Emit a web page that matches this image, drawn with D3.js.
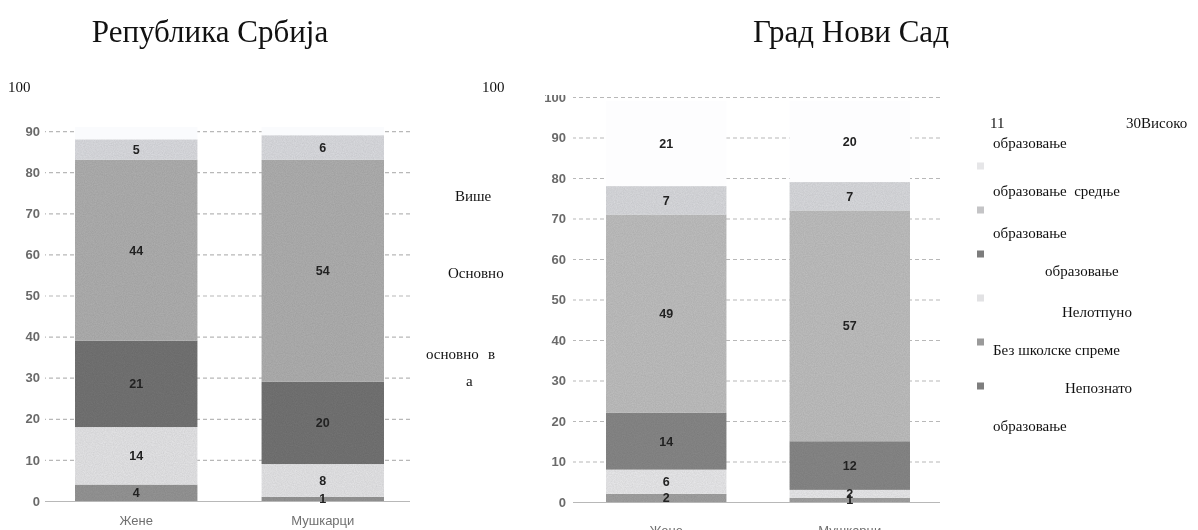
<!DOCTYPE html>
<html>
<head>
<meta charset="utf-8">
<script src="https://cdn.jsdelivr.net/npm/d3@7"></script>
<style>
  body { margin: 0; background: #fff; }
  svg { display: block; }
  .ocr { font-family: "Liberation Serif", "Times New Roman", serif; fill: #111; }
</style>
</head>
<body>
<svg id="chart" width="1198" height="530"></svg>
<script>
// categories and series (stack order, bottom to top)
var categories = ["Жене", "Мушкарци"];
var seriesKeys = ["bez", "nepotpuno", "osnovno", "srednje", "vise", "visoko"];

// Република Србија (%)
var srbBez       = [4, 1];
var srbNepotpuno = [14, 8];
var srbOsnovno   = [21, 20];
var srbSrednje   = [44, 54];
var srbVise      = [5, 6];
var srbVisoko    = [11, 11];

// Град Нови Сад (%)
var nsBez       = [2, 1];
var nsNepotpuno = [6, 2];
var nsOsnovno   = [14, 12];
var nsSrednje   = [49, 57];
var nsVise      = [7, 7];
var nsVisoko    = [21, 20];

var srbTicks = [0, 10, 20, 30, 40, 50, 60, 70, 80, 90];
var nsTicks  = [0, 10, 20, 30, 40, 50, 60, 70, 80, 90, 100];

// legend (text layer of the scan)
var legendKeys = ["vise", "srednje", "osnovno", "nepotpuno", "bez", "nepoznato"];

var svg = d3.select("#chart");
var defs = svg.append("defs");

// scanned paper grain
var grain = defs.append("filter").attr("id", "grain")
  .attr("x", 0).attr("y", 0).attr("width", 1).attr("height", 1);
grain.append("feTurbulence").attr("type", "fractalNoise")
  .attr("baseFrequency", 0.9).attr("numOctaves", 2).attr("seed", 3).attr("result", "n");
grain.append("feColorMatrix").attr("in", "n").attr("type", "matrix")
  .attr("values", "0 0 0 0 0  0 0 0 0 0  0 0 0 0 0  0 0 0 0.22 0").attr("result", "na");
grain.append("feComposite").attr("in", "na").attr("in2", "SourceGraphic")
  .attr("operator", "in").attr("result", "nc");
var merge = grain.append("feMerge");
merge.append("feMergeNode").attr("in", "SourceGraphic");
merge.append("feMergeNode").attr("in", "nc");

var soft = defs.append("filter").attr("id", "soft");
soft.append("feGaussianBlur").attr("stdDeviation", 0.55);

function rows(bez, nep, osn, sre, vis, vso) {
  return categories.map(function(c, i) {
    return { cat: c, bez: bez[i], nepotpuno: nep[i], osnovno: osn[i],
             srednje: sre[i], vise: vis[i], visoko: vso[i] };
  });
}

function drawChart(opt) {
  var g = svg.append("g");
  var clipId = "clip" + opt.id;
  defs.append("clipPath").attr("id", clipId)
    .append("rect").attr("x", 0).attr("y", opt.clipTop)
    .attr("width", 1198).attr("height", 530 - opt.clipTop);
  g.attr("clip-path", "url(#" + clipId + ")");
  var inner = g.append("g").attr("filter", "url(#soft)");

  var y = d3.scaleLinear().domain([0, 100]).range([opt.y0, opt.y100]);
  var x = d3.scaleBand().domain(categories)
    .range([opt.barLeft, opt.barRight]).paddingInner(opt.padInner).paddingOuter(0);

  // dashed grid
  var grid = inner.append("g")
    .attr("transform", "translate(" + opt.gridRight + ",0)")
    .call(d3.axisLeft(y).tickValues(opt.ticks).tickSize(opt.gridRight - opt.gridLeft).tickFormat(""));
  grid.select(".domain").remove();
  grid.selectAll("line")
    .attr("stroke", "#b8b8b8").attr("stroke-width", 1.2)
    .attr("stroke-dasharray", function(d) { return d === 0 ? null : "4,3"; });

  // tick labels
  var lab = inner.append("g")
    .attr("transform", "translate(" + opt.labelX + ",0)")
    .call(d3.axisLeft(y).tickValues(opt.ticks).tickSize(0).tickPadding(0));
  lab.select(".domain").remove();
  lab.selectAll("text")
    .attr("font-family", "Liberation Sans, Arial, sans-serif")
    .attr("font-size", 13).attr("font-weight", "bold").attr("fill", "#6a6a6a");

  // stacked bars
  var stacked = d3.stack().keys(seriesKeys)(opt.data);
  var layers = inner.append("g")
    .selectAll("g").data(stacked).join("g")
    .attr("fill", function(d) { return opt.colors[d.key]; })
    .attr("filter", function(d) { return d.key === "visoko" ? null : "url(#grain)"; });
  layers.selectAll("rect").data(function(d) { return d; }).join("rect")
    .attr("x", function(d) { return x(d.data.cat); })
    .attr("width", x.bandwidth())
    .attr("y", function(d) { return y(d[1]); })
    .attr("height", function(d) { return y(d[0]) - y(d[1]); });

  // value labels
  stacked.forEach(function(layer) {
    inner.append("g").selectAll("text").data(layer).join("text")
      .attr("x", function(d) { return x(d.data.cat) + x.bandwidth() / 2; })
      .attr("y", function(d) { return y((d[0] + d[1]) / 2); })
      .attr("dy", "0.36em")
      .attr("text-anchor", "middle")
      .attr("font-family", "Liberation Sans, Arial, sans-serif")
      .attr("font-size", 12.5).attr("font-weight", "bold").attr("fill", "#222")
      .text(function(d) { return d[1] - d[0]; });
  });

  // category labels
  inner.append("g").selectAll("text").data(categories).join("text")
    .attr("x", function(d) { return x(d) + x.bandwidth() / 2; })
    .attr("y", opt.catY)
    .attr("text-anchor", "middle")
    .attr("font-family", "Liberation Sans, Arial, sans-serif")
    .attr("font-size", 13).attr("fill", "#707070")
    .text(function(d) { return d; });
}

drawChart({
  id: "srb",
  data: rows(srbBez, srbNepotpuno, srbOsnovno, srbSrednje, srbVise, srbVisoko),
  ticks: srbTicks,
  y0: 501, y100: 90, clipTop: 127,
  barLeft: 75, barRight: 384, padInner: 0.344,
  gridLeft: 45, gridRight: 410, labelX: 40, catY: 525,
  colors: { bez: "#969696", nepotpuno: "#e6e6e8", osnovno: "#747474",
            srednje: "#b0b0b0", vise: "#dcdde1", visoko: "#fafbfd" }
});

drawChart({
  id: "ns",
  data: rows(nsBez, nsNepotpuno, nsOsnovno, nsSrednje, nsVise, nsVisoko),
  ticks: nsTicks,
  y0: 502, y100: 97, clipTop: 95,
  barLeft: 606, barRight: 910, padInner: 0.344,
  gridLeft: 573, gridRight: 940, labelX: 566, catY: 535,
  colors: { bez: "#a2a2a2", nepotpuno: "#eaeaec", osnovno: "#888888",
            srednje: "#c0c0c0", vise: "#dadbdf", visoko: "#fdfdfe" }
});

// legend markers
var legendColors = { vise: "#e6e6e8", srednje: "#c4c4c6", osnovno: "#7c7c7c",
                     nepotpuno: "#e2e2e4", bez: "#9a9a9a", nepoznato: "#7e7e7e" };
var legendY = d3.scalePoint().domain(legendKeys).range([166, 386]);
svg.append("g").attr("filter", "url(#soft)")
  .selectAll("rect").data(legendKeys).join("rect")
  .attr("x", 977).attr("width", 7).attr("height", 7)
  .attr("y", function(d) { return legendY(d) - 3.5; })
  .attr("fill", function(d) { return legendColors[d]; });

// text layer (OCR) of the scanned page
var titles = [
  { t: "Република Србија", x: 210, y: 42 },
  { t: "Град Нови Сад", x: 851, y: 42 }
];
svg.append("g").selectAll("text").data(titles).join("text")
  .attr("class", "ocr").attr("font-size", 31)
  .attr("x", function(d) { return d.x; }).attr("y", function(d) { return d.y; })
  .attr("text-anchor", "middle")
  .text(function(d) { return d.t; });

var ocrText = [
  { t: "100", x: 8, y: 92 },
  { t: "100", x: 482, y: 92 },
  { t: "Више", x: 455, y: 201 },
  { t: "Основно", x: 448, y: 278 },
  { t: "основно", x: 426, y: 359 },
  { t: "в", x: 488, y: 359 },
  { t: "а", x: 466, y: 386 },
  { t: "11", x: 990, y: 128 },
  { t: "30Високо", x: 1126, y: 128 },
  { t: "образовање", x: 993, y: 148 },
  { t: "образовање  средње", x: 993, y: 196 },
  { t: "образовање", x: 993, y: 238 },
  { t: "образовање", x: 1045, y: 276 },
  { t: "Нелотпуно", x: 1062, y: 317 },
  { t: "Без школске спреме", x: 993, y: 355 },
  { t: "Непознато", x: 1065, y: 393 },
  { t: "образовање", x: 993, y: 431 }
];
svg.append("g").selectAll("text").data(ocrText).join("text")
  .attr("class", "ocr").attr("font-size", 15)
  .attr("x", function(d) { return d.x; }).attr("y", function(d) { return d.y; })
  .attr("xml:space", "preserve").style("white-space", "pre")
  .text(function(d) { return d.t; });
</script>
</body>
</html>
